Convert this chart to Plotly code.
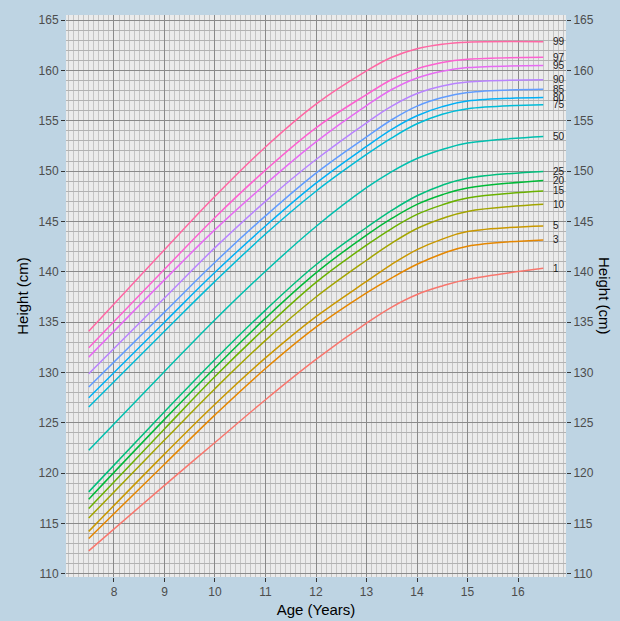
import plotly.graph_objects as go

ages = [7.5, 9, 10, 11, 12, 13, 13.5, 14, 14.5, 15, 16.5]

percentiles = ["1", "3", "5", "10", "15", "20", "25", "50", "75", "80", "85", "90", "95", "97", "99"]

p1 = [112.3, 118.8, 123.05, 127.3, 131.3, 134.9, 136.5, 137.75, 138.6, 139.25, 140.35]
p3 = [113.53, 120.9, 125.8, 130.4, 134.5, 137.9, 139.4, 140.75, 141.8, 142.55, 143.17]
p5 = [114.23, 121.9, 126.85, 131.45, 135.55, 139.05, 140.75, 142.2, 143.25, 144.0, 144.56]
p10 = [115.55, 123.3, 128.4, 133.2, 137.5, 141.15, 142.85, 144.3, 145.3, 146.0, 146.71]
p15 = [116.5, 124.4, 129.6, 134.45, 138.95, 142.65, 144.3, 145.7, 146.65, 147.33, 148.03]
p20 = [117.43, 125.35, 130.48, 135.4, 139.9, 143.65, 145.3, 146.7, 147.66, 148.32, 149.08]
p25 = [118.15, 126.1, 131.3, 136.2, 140.7, 144.4, 146.1, 147.55, 148.6, 149.3, 149.97]
p50 = [122.28, 130.1, 135.25, 140.06, 144.5, 148.35, 149.95, 151.25, 152.15, 152.78, 153.43]
p75 = [126.58, 134.1, 139.05, 143.75, 148.0, 151.65, 153.3, 154.7, 155.65, 156.2, 156.6]
p80 = [127.5, 135.0, 139.95, 144.55, 148.8, 152.45, 154.15, 155.5, 156.4, 156.95, 157.3]
p85 = [128.56, 136.0, 140.95, 145.55, 149.8, 153.4, 155.1, 156.45, 157.3, 157.8, 158.13]
p90 = [129.88, 137.4, 142.4, 147.0, 151.15, 154.8, 156.45, 157.7, 158.45, 158.85, 159.06]
p95 = [131.53, 139.2, 144.19, 148.7, 152.9, 156.5, 158.1, 159.25, 159.92, 160.28, 160.48]
p97 = [132.46, 140.25, 145.4, 150.1, 154.3, 157.6, 159.1, 160.15, 160.78, 161.1, 161.3]
p99 = [134.1, 142.2, 147.5, 152.4, 156.65, 159.95, 161.3, 162.15, 162.6, 162.8, 162.85]

series = [p1, p3, p5, p10, p15, p20, p25, p50, p75, p80, p85, p90, p95, p97, p99]

colors = ["#F8766D", "#E58700", "#C99800", "#A3A500", "#6BB100", "#00BA38", "#00BF7D",
          "#00C0AF", "#00BCD8", "#00B0F6", "#619CFF", "#B983FF", "#E76BF3", "#FD61D1", "#FF67A4"]

x_ticks = [8, 9, 10, 11, 12, 13, 14, 15, 16]
y_ticks = [110, 115, 120, 125, 130, 135, 140, 145, 150, 155, 160, 165]

FONT = "Liberation Sans, Arial, sans-serif"

fig = go.Figure()
for name, vals, col in zip(percentiles, series, colors):
    fig.add_trace(go.Scatter(x=ages, y=vals, mode="lines", name=name,
                             line=dict(color=col, width=1.5, shape="spline", smoothing=1.1),
                             showlegend=False, hoverinfo="skip"))

fig.add_trace(go.Scatter(x=[None], y=[None], yaxis="y2", showlegend=False, hoverinfo="skip"))

for name, vals in zip(percentiles, series):
    fig.add_annotation(x=16.66, y=vals[-1], text=name, showarrow=False, xanchor="left",
                       yanchor="middle", font=dict(size=10, color="#1A1A1A", family=FONT))

yrange = [109.7, 165.5]
axis_common = dict(showline=False, zeroline=False, ticks="outside", ticklen=4, automargin=False,
                   tickcolor="#333333", tickfont=dict(size=12, color="#4D4D4D", family=FONT))

fig.update_layout(
    width=620, height=621, autosize=False,
    margin=dict(l=66, r=54, t=15, b=44),
    paper_bgcolor="#BED4E3",
    plot_bgcolor="#EBEBEB",
    xaxis=dict(range=[7.05, 16.95], tickvals=x_ticks, showgrid=True,
               gridcolor="#8A8A8A", gridwidth=1,
               minor=dict(dtick=0.1, tick0=0, showgrid=True, gridcolor="#C4C4C4", gridwidth=1),
               title=dict(text="Age (Years)", font=dict(size=15, color="#000000", family=FONT), standoff=6),
               **axis_common),
    yaxis=dict(range=yrange, tickvals=y_ticks, showgrid=True,
               gridcolor="#8A8A8A", gridwidth=1,
               minor=dict(dtick=1, tick0=0, showgrid=True, gridcolor="#B2B2B2", gridwidth=1),
               title=dict(text="Height (cm)", font=dict(size=15, color="#000000", family=FONT), standoff=6),
               **axis_common),
    yaxis2=dict(range=yrange, tickvals=y_ticks, overlaying="y", side="right", showgrid=False,
                **axis_common),
    font=dict(family=FONT),
)

fig.add_annotation(xref="paper", yref="paper", x=1.0, xshift=39, y=0.5, text="Height (cm)",
                   textangle=90, showarrow=False, xanchor="center", yanchor="middle",
                   font=dict(size=15, color="#000000", family=FONT))

fig.write_html("out.html", config={"displayModeBar": False},
               post_script="document.body.style.margin='0px';document.body.style.padding='0px';")
